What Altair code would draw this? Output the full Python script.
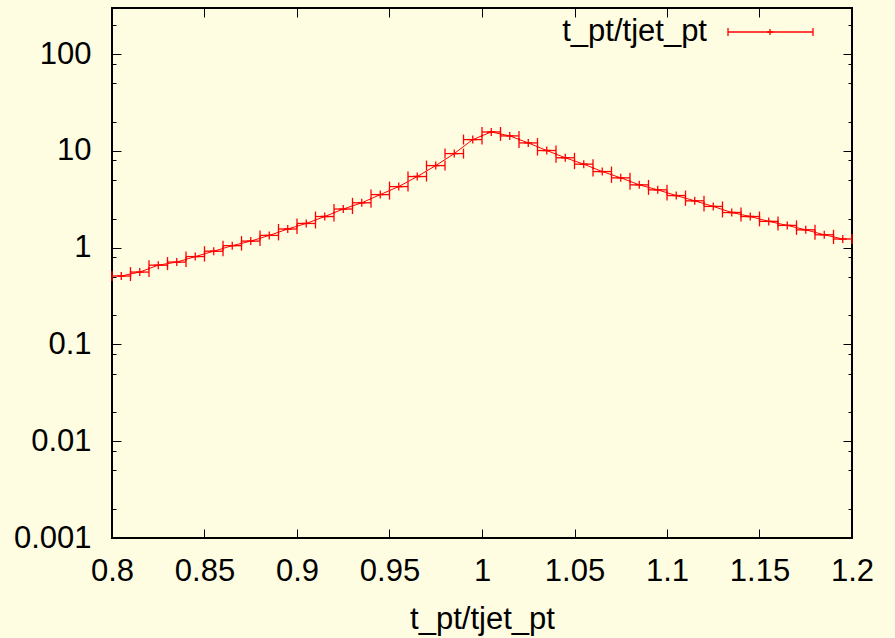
import altair as alt
import pandas as pd

# Histogram of t_pt/tjet_pt: bin edges (width 0.01) and bin contents
bin_lo = [0.80, 0.81, 0.82, 0.83, 0.84, 0.85, 0.86, 0.87, 0.88, 0.89,
          0.90, 0.91, 0.92, 0.93, 0.94, 0.95, 0.96, 0.97, 0.98, 0.99,
          1.00, 1.01, 1.02, 1.03, 1.04, 1.05, 1.06, 1.07, 1.08, 1.09,
          1.10, 1.11, 1.12, 1.13, 1.14, 1.15, 1.16, 1.17, 1.18, 1.19]
bin_hi = [0.81, 0.82, 0.83, 0.84, 0.85, 0.86, 0.87, 0.88, 0.89, 0.90,
          0.91, 0.92, 0.93, 0.94, 0.95, 0.96, 0.97, 0.98, 0.99, 1.00,
          1.01, 1.02, 1.03, 1.04, 1.05, 1.06, 1.07, 1.08, 1.09, 1.10,
          1.11, 1.12, 1.13, 1.14, 1.15, 1.16, 1.17, 1.18, 1.19, 1.20]
bin_center = [0.805, 0.815, 0.825, 0.835, 0.845, 0.855, 0.865, 0.875, 0.885, 0.895,
              0.905, 0.915, 0.925, 0.935, 0.945, 0.955, 0.965, 0.975, 0.985, 0.995,
              1.005, 1.015, 1.025, 1.035, 1.045, 1.055, 1.065, 1.075, 1.085, 1.095,
              1.105, 1.115, 1.125, 1.135, 1.145, 1.155, 1.165, 1.175, 1.185, 1.195]
counts = [0.51, 0.56, 0.66, 0.71, 0.81, 0.92, 1.05, 1.17, 1.34, 1.56,
          1.78, 2.10, 2.51, 2.91, 3.54, 4.28, 5.44, 7.06, 9.39, 13.1,
          15.7, 14.3, 12.1, 10.1, 8.5, 7.3, 6.12, 5.27, 4.46, 3.96,
          3.46, 3.05, 2.67, 2.31, 2.10, 1.87, 1.70, 1.53, 1.36, 1.23]

x_ticks = [0.8, 0.85, 0.9, 0.95, 1.0, 1.05, 1.1, 1.15, 1.2]
y_ticks = [0.001, 0.01, 0.1, 1, 10, 100]
y_minor = [0.002, 0.005, 0.008, 0.02, 0.05, 0.08, 0.2, 0.5, 0.8,
           2, 5, 8, 20, 50, 80, 200]

series_name = "t_pt/tjet_pt"

df = pd.DataFrame({"lo": bin_lo, "hi": bin_hi, "x": bin_center, "y": counts})
one = pd.DataFrame({"k": [0]})

W, H = 740, 530
FONT = "Liberation Sans"
FS = 31
RED = "#ff0000"

xs = alt.Scale(domain=[0.8, 1.2], nice=False, zero=False)
ys = alt.Scale(type="log", domain=[0.001, 300], nice=False)

x_label_axis = alt.Axis(values=x_ticks, format="~g", ticks=False, tickSize=0, domain=False,
                        grid=False, labelFont=FONT, labelFontSize=FS, labelColor="black",
                        labelPadding=18, labelOverlap=False, labelFlush=False,
                        title=series_name, titleFont=FONT, titleFontSize=FS,
                        titleFontWeight="normal", titleColor="black", titlePadding=18)
y_label_axis = alt.Axis(values=y_ticks, format="~g", ticks=False, tickSize=0, domain=False,
                        grid=False, labelFont=FONT, labelFontSize=FS, labelColor="black",
                        labelPadding=21, labelOverlap=False, labelFlush=False, title=None)

base = alt.Chart(df)
X = alt.X("x:Q", scale=xs, axis=x_label_axis)
Y = alt.Y("y:Q", scale=ys, axis=y_label_axis)

line = base.mark_line(color=RED, strokeWidth=1).encode(x=X, y=Y)
bars = base.mark_rule(color=RED, strokeWidth=1.3).encode(
    x=alt.X("lo:Q", scale=xs), x2="hi:Q", y=alt.Y("y:Q", scale=ys))
cap_lo = base.mark_tick(orient="vertical", color=RED, size=10, thickness=1.3, opacity=1).encode(
    x=alt.X("lo:Q", scale=xs), y=alt.Y("y:Q", scale=ys))
cap_hi = base.mark_tick(orient="vertical", color=RED, size=10, thickness=1.3, opacity=1).encode(
    x=alt.X("hi:Q", scale=xs), y=alt.Y("y:Q", scale=ys))
pts = base.mark_point(shape="M-1,0H1M0,-1V1", size=64, filled=False, color=RED,
                      strokeWidth=1.3, opacity=1).encode(
    x=alt.X("x:Q", scale=xs), y=alt.Y("y:Q", scale=ys))

data_layer = alt.layer(line, bars, cap_lo, cap_hi, pts)


def tick_axis(orient, offset, values, size):
    return alt.Axis(orient=orient, offset=offset, values=values, labels=False,
                    tickSize=size, tickColor="black", tickWidth=1, domain=False,
                    grid=False, title=None)


def tick_layer(x_axis, y_axis):
    enc = {}
    enc["x"] = alt.X("x:Q", scale=xs, axis=x_axis)
    enc["y"] = alt.Y("y:Q", scale=ys, axis=y_axis)
    return base.mark_point(opacity=0).encode(**enc)


# inward-pointing ticks on all four sides of the frame
ticks_a = tick_layer(tick_axis("top", -H, x_ticks, 9), tick_axis("right", -W, y_ticks, 9))
ticks_b = tick_layer(tick_axis("bottom", -H, x_ticks, 9), tick_axis("left", -W, y_ticks, 9))
ticks_c = tick_layer(None, tick_axis("right", -W, y_minor, 4))
ticks_d = tick_layer(None, tick_axis("left", -W, y_minor, 4))

# key entry in the upper right corner
key = alt.Chart(one)
key_text = key.mark_text(text=series_name, font=FONT, fontSize=FS, align="right",
                         baseline="middle", color="black").encode(
    x=alt.value(595), y=alt.value(24))
key_bar = key.mark_rule(color=RED, strokeWidth=1.3).encode(
    x=alt.value(616), x2=alt.value(701), y=alt.value(24))
key_cap_l = key.mark_tick(orient="vertical", color=RED, size=8, thickness=1.3, opacity=1).encode(
    x=alt.value(616), y=alt.value(24))
key_cap_r = key.mark_tick(orient="vertical", color=RED, size=8, thickness=1.3, opacity=1).encode(
    x=alt.value(701), y=alt.value(24))
key_pt = key.mark_point(shape="M-1,0H1M0,-1V1", size=36, filled=False, color=RED,
                        strokeWidth=1.3, opacity=1).encode(
    x=alt.value(658), y=alt.value(24))

chart = alt.layer(data_layer, ticks_a, ticks_b, ticks_c, ticks_d,
                  key_text, key_bar, key_cap_l, key_cap_r, key_pt).resolve_scale(
    x="independent", y="independent").properties(
    width=W, height=H, background="#fffde1",
    padding={"left": 112, "top": 8, "right": 43, "bottom": 100},
    autosize=alt.AutoSizeParams(type="none")
).configure_view(stroke="black", strokeWidth=2)

chart.save("out.html", embed_options={"renderer": "svg", "actions": False})
